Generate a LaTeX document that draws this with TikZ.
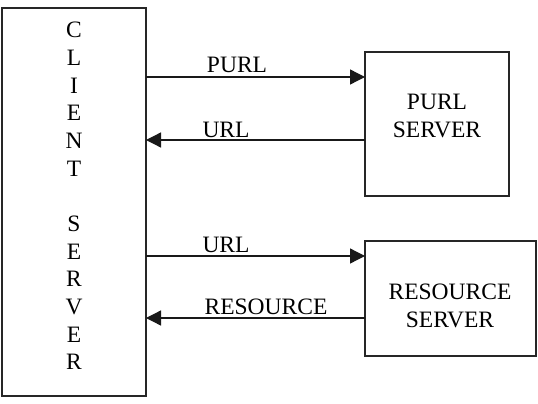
\documentclass[tikz,border=0pt]{standalone}
\usepackage{fontspec}
\setmainfont{Liberation Serif}
\usetikzlibrary{arrows.meta}
\begin{document}
\begin{tikzpicture}[x=1pt,y=-1pt,
  box/.style={draw=black!85,line width=1.5pt,inner sep=0pt,outer sep=0pt},
  txt/.style={inner sep=0pt,font=\fontsize{23.5}{27.67}\selectfont,align=center},
  arr/.style={draw=black!90,line width=1.3pt,-{Triangle[length=15pt,width=15pt]}}]
\useasboundingbox (0,0) rectangle (538,404);
% boxes
\node[box,minimum width=144pt,minimum height=388pt] (client) at (74,202) {};
\node[box,minimum width=144pt,minimum height=144pt] (purl) at (437,124) {};
\node[box,minimum width=171pt,minimum height=115pt] (res) at (450.5,298.5) {};
% box texts
\node[txt,anchor=north] (clienttext) at (74,22) {C\\L\\I\\E\\N\\T\\\mbox{}\\S\\E\\R\\V\\E\\R};
\node[txt,anchor=base] (purltext) at (437,137) {PURL\\SERVER};
\node[txt,anchor=base] (restext) at (450,327) {RESOURCE\\SERVER};
% y levels
\coordinate (y1) at (0,77);
\coordinate (y2) at (0,140);
\coordinate (y3) at (0,256);
\coordinate (y4) at (0,318);
% connectors
\draw[arr] (client.east |- y1) -- (purl.west |- y1);
\draw[arr] (purl.west |- y2) -- (client.east |- y2);
\draw[arr] (client.east |- y3) -- (res.west |- y3);
\draw[arr] (res.west |- y4) -- (client.east |- y4);
% connector labels
\node[txt,anchor=base] (l1) at (237,73) {PURL};
\node[txt,anchor=base] (l2) at (226,137) {URL};
\node[txt,anchor=base] (l3) at (226,252) {URL};
\node[txt,anchor=base] (l4) at (266,314) {RESOURCE};
\end{tikzpicture}
\end{document}
